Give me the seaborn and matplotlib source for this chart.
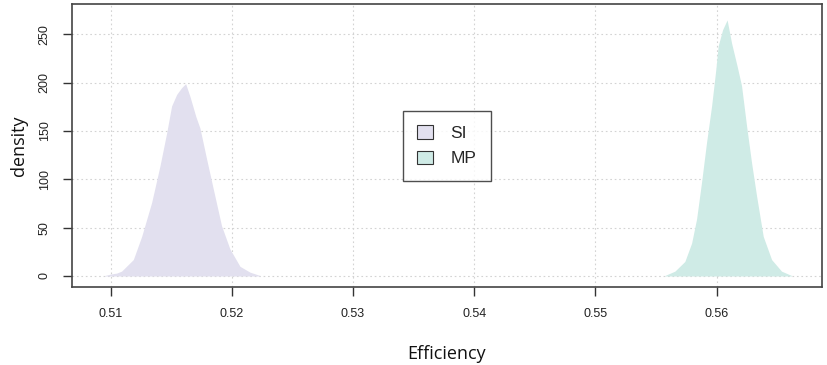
import matplotlib
matplotlib.use("Agg")
import matplotlib.pyplot as plt
import seaborn as sns
import pandas as pd
from matplotlib.patches import Patch

# --- data ---
si_x = [0.50950, 0.51000, 0.51050, 0.51090, 0.51187, 0.51256, 0.51338, 0.51407, 0.51462,
        0.51503, 0.51545, 0.51586, 0.51619, 0.51654, 0.51703, 0.51737, 0.51792, 0.51847,
        0.51915, 0.51984, 0.52067, 0.52149, 0.52232]
si_d = [0.5, 2, 3, 5, 17, 41, 76, 114, 148,
        176, 188, 195, 199, 186, 165, 153, 121, 90,
        52, 28, 10, 4, 0.5]

mp_x = [0.55573, 0.55656, 0.55738, 0.55794, 0.55835, 0.55876, 0.55917, 0.55959, 0.55994,
        0.56013, 0.56050, 0.56087, 0.56124, 0.56170, 0.56206, 0.56248, 0.56289, 0.56330,
        0.56385, 0.56454, 0.56536, 0.56619]
mp_d = [0.5, 5, 15, 34, 59, 97, 138, 176, 214,
        238, 255, 265, 241, 217, 197, 155, 117, 83,
        41, 17, 5, 0.5]

labels = ["SI", "MP"]
colors = ["#e2e0ef", "#cfebe6"]
x_ticks = [0.51, 0.52, 0.53, 0.54, 0.55, 0.56]
y_ticks = [0, 50, 100, 150, 200, 250]

sns.set_style("white")
plt.rcParams["font.family"] = ["Liberation Sans", "DejaVu Sans"]

fig = plt.figure(figsize=(8.28, 3.65), dpi=100)
ax = fig.add_axes([72 / 828, 1 - 287 / 365, 750 / 828, 283 / 365])

df = pd.concat([
    pd.DataFrame({"x": si_x, "d": si_d, "g": labels[0]}),
    pd.DataFrame({"x": mp_x, "d": mp_d, "g": labels[1]}),
])
for lab, col in zip(labels, colors):
    sub = df[df["g"] == lab]
    sns.lineplot(data=sub, x="x", y="d", ax=ax, color=col, linewidth=0, legend=False)
    ax.fill_between(sub["x"], sub["d"], 0, color=col, linewidth=0, zorder=2)

ax.set_xlim(0.50681, 0.56870)
ax.set_ylim(-11.4, 281.5)
ax.set_xticks(x_ticks)
ax.set_yticks(y_ticks)
ax.set_xticklabels([f"{v:.2f}" for v in x_ticks], fontsize=9, color="#222222")
ax.set_yticklabels([str(v) for v in y_ticks], fontsize=9, rotation=90, va="center",
                   color="#222222")
ax.grid(True, color="#d3d3d3", linestyle=(0, (1.5, 2.5)), linewidth=0.8, zorder=0)
ax.set_axisbelow(True)
ax.tick_params(axis="both", direction="out", length=6.3, width=1, color="#333333",
               bottom=True, left=True, pad=9)
for s in ax.spines.values():
    s.set_color("#444444")
    s.set_linewidth(1.2)

ax.set_xlabel("Efficiency", fontsize=13, family=["Open Sans", "DejaVu Sans"], labelpad=18,
              color="#111111")
ax.set_ylabel("density", fontsize=13, family=["Open Sans", "DejaVu Sans"], labelpad=8,
              color="#111111")

handles = [Patch(facecolor=c, edgecolor="#333333", linewidth=0.8) for c in colors]
leg = ax.legend(handles, labels, loc="center", bbox_to_anchor=(446.7 / 828, 1 - 145.8 / 365),
                bbox_transform=fig.transFigure, fontsize=12.5, frameon=True, fancybox=False,
                edgecolor="#222222", handlelength=0.9, handleheight=0.8, handletextpad=1.0,
                borderpad=0.85, labelspacing=0.55, borderaxespad=0)
leg.get_frame().set_linewidth(1.0)

fig.savefig("out.png", dpi=100)
